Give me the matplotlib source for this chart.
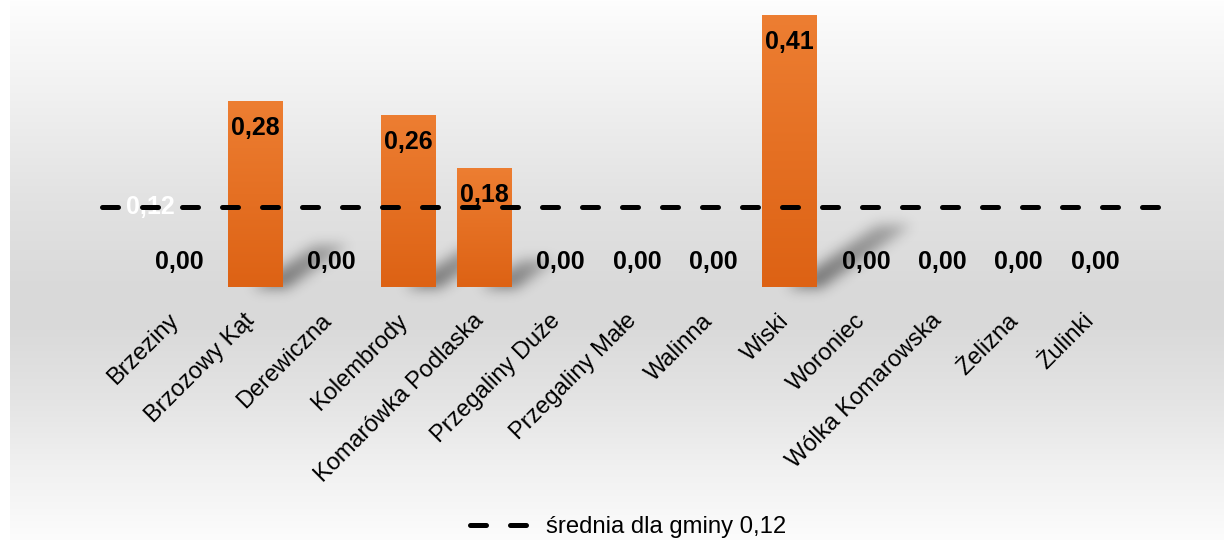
import numpy as np
import matplotlib
matplotlib.use("Agg")
import matplotlib.pyplot as plt
from matplotlib.lines import Line2D
from matplotlib.colors import LinearSegmentedColormap
import matplotlib.transforms as mtransforms

plt.rcParams['font.family'] = ['Liberation Sans', 'DejaVu Sans']

categories = ["Brzeziny", "Brzozowy Kąt", "Derewiczna", "Kolembrody", "Komarówka Podlaska",
              "Przegaliny Duże", "Przegaliny Małe", "Walinna", "Wiski", "Woroniec",
              "Wólka Komarowska", "Żelizna", "Żulinki"]
values = [0.00, 0.28, 0.00, 0.26, 0.18, 0.00, 0.00, 0.00, 0.41, 0.00, 0.00, 0.00, 0.00]
average = 0.12
legend_label = "średnia dla gminy 0,12"

W, H = 1224, 540
DPI = 100
fig = plt.figure(figsize=(W / DPI, H / DPI), dpi=DPI)
fig.patch.set_facecolor("white")

# background gradient (figure-level)
bg_ax = fig.add_axes([10 / W, 0, 1 - 10 / W, 1], zorder=0)
ys = np.array([0, 15, 100, 200, 290, 330, 400, 470, 540])
gv = np.array([254, 251, 240, 226, 217, 218, 228, 241, 252]) / 255.0
yy = np.arange(H)
col = np.interp(yy, ys, gv)
img = np.repeat(col[:, None], 4, axis=1)
bg_ax.imshow(np.dstack([img, img, img]), aspect="auto", extent=(0, 1, 0, 1))
bg_ax.set_axis_off()

# main axes
left_px, right_px = 141, 1133
base_px, top_px = 287, 15
ax = fig.add_axes([left_px / W, (H - base_px) / H, (right_px - left_px) / W, (base_px - top_px) / H], zorder=2)
ax.set_facecolor("none")
x = np.arange(len(categories))
for s in ax.spines.values():
    s.set_visible(False)
ax.set_yticks([])

bars = ax.bar(x, values, width=0.72, color="#E6701F", zorder=2)

# gradient fill for bars
cmap = LinearSegmentedColormap.from_list("og", [(221/255, 98/255, 20/255), (237/255, 126/255, 50/255)])
grad = np.linspace(0, 1, 256)[:, None]
for b in bars:
    if b.get_height() <= 0:
        continue
    x0, w, h = b.get_x(), b.get_width(), b.get_height()
    im = ax.imshow(grad, cmap=cmap, aspect="auto", origin="lower",
                   extent=(x0, x0 + w, 0, h), zorder=2.1)
    im.set_clip_path(b)
ax.set_xlim(-0.5, len(categories) - 0.5)
ax.set_ylim(0, max(values))

# shadows (overlay in pixel space)
sh_ax = fig.add_axes([0, 0, 1, 1], zorder=1)
sh_ax.set_axis_off()
alpha = np.zeros((H, W))
XX, YY = np.meshgrid(np.arange(W), np.arange(H))
for b in bars:
    h = b.get_height()
    if h <= 0:
        continue
    (xl, yb), (xr, yt) = ax.transData.transform([(b.get_x(), 0), (b.get_x() + b.get_width(), h)])
    yb_t, yt_t = H - yb, H - yt
    hp = yb_t - yt_t
    dx, dy = 0.33 * hp, -0.23 * hp
    t = (YY - yb_t) / dy
    xs = XX - t * dx
    mask = (t >= 0) & (t <= 1) & (xs >= xr - 30) & (xs <= xr + 4)
    fade = np.clip(1 - 0.45 * t, 0, 1)
    alpha = np.maximum(alpha, mask * fade * 0.5)

def blur(a, sigma):
    r = int(3 * sigma)
    k = np.exp(-0.5 * (np.arange(-r, r + 1) / sigma) ** 2)
    k /= k.sum()
    a = np.apply_along_axis(lambda m: np.convolve(m, k, mode="same"), 0, a)
    a = np.apply_along_axis(lambda m: np.convolve(m, k, mode="same"), 1, a)
    return a

alpha = blur(alpha, 6.5)
rgba = np.zeros((H, W, 4))
rgba[..., 3] = alpha
sh_ax.imshow(rgba, extent=(0, W, H, 0), aspect="auto")
sh_ax.set_xlim(0, W)
sh_ax.set_ylim(H, 0)

# data labels
for xi, v in zip(x, values):
    txt = f"{v:.2f}".replace(".", ",")
    off = -19.5 if v > 0 else 18
    ax.annotate(txt, (xi, v), xytext=(0, off), textcoords="offset points",
                ha="center", va="center", fontsize=18, fontweight="bold", color="black", zorder=5)

# average line
trans = mtransforms.blended_transform_factory(ax.transAxes, ax.transData)
ax.text((150 - left_px) / (right_px - left_px), average, f"{average:.2f}".replace(".", ","),
        transform=trans, ha="center", va="center", fontsize=18, fontweight="bold",
        color="white", zorder=6)
ax.axhline(average, xmin=(102 - left_px) / (right_px - left_px), xmax=(1172 - left_px) / (right_px - left_px),
           color="black", lw=3.6, dashes=(3.2, 4.8), dash_capstyle="round", clip_on=False, zorder=7)

# tick labels
ax.set_xticks(x)
ax.set_xticklabels(categories, rotation=45, ha="right", va="center", rotation_mode="anchor", fontsize=17)
ax.tick_params(axis="x", length=0, pad=22)
for lbl in ax.get_xticklabels():
    lbl.set_transform(lbl.get_transform() + mtransforms.ScaledTranslation(-4 / DPI, 0, fig.dpi_scale_trans))

# legend
handle = Line2D([], [], color="black", lw=3.6, dashes=(3.2, 4.8), dash_capstyle="round")
fig.legend([handle], [legend_label], loc="center", bbox_to_anchor=(628 / W, (H - 527) / H),
           frameon=False, fontsize=17.2, handlelength=2.4, handletextpad=0.75)

fig.savefig("out.png", dpi=DPI)
